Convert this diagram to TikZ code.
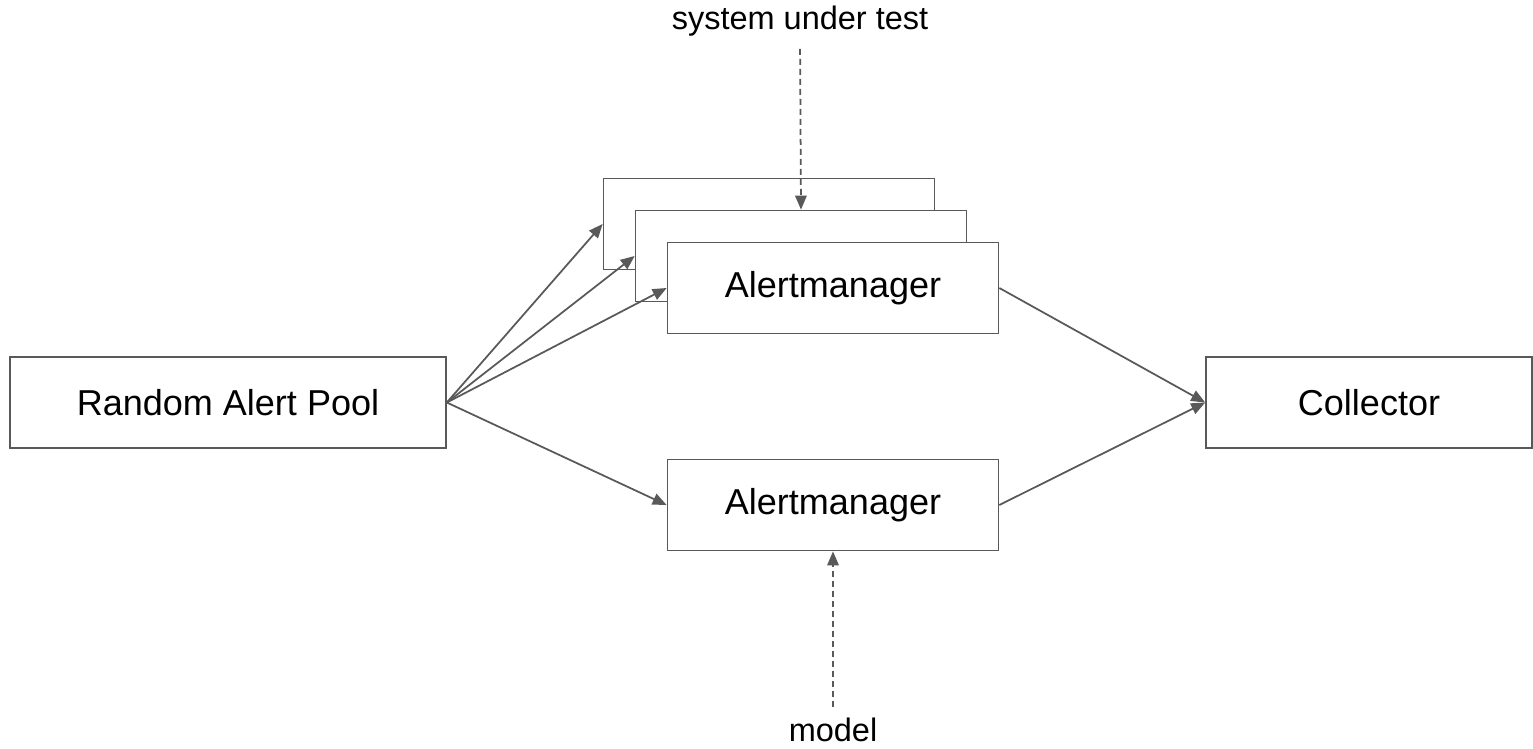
\documentclass[tikz,border=0pt]{standalone}
\usepackage{fontspec}
\setmainfont{Liberation Sans}
\usepackage{xcolor}
\definecolor{Line}{RGB}{89,89,89}
\definecolor{Black}{RGB}{0,0,0}
\definecolor{White}{RGB}{255,255,255}
\usetikzlibrary{arrows.meta}

\tikzset{
	box/.style={draw=Line, line width=1pt, fill=White, minimum width=6.62cm, minimum height=1.82cm, font=\fontsize{20.5}{24}\selectfont, text=Black},
	conn/.style={draw=Line, line width=1pt, -{Triangle[length=2.8mm, width=2.3mm]}},
	dashconn/.style={conn, dash pattern=on 1.2mm off 0.8mm},
	lbl/.style={font=\fontsize{18.5}{22}\selectfont, text=Black, inner sep=0pt}
}

\begin{document}
\begin{tikzpicture}[x=0.02cm, y=-0.02cm]
		
		\useasboundingbox (0,0) rectangle (1533,748);
		
		% Boxes
		\node[box, minimum width=8.72cm] (pool) at (228,402.5) {Random Alert Pool};
		\node[box, minimum width=6.52cm] (collector) at (1369,402.5) {Collector};
		\node[box] (back) at (769,224) {};
		\node[box] (mid) at (801,256) {};
		\node[box] (front) at (833,288) {Alertmanager};
		\node[box] (model) at (833,505) {Alertmanager};
		
		% Labels
		\node[lbl] (sut) at (800,21) {system under test};
		\node[lbl] (modellbl) at (833,730) {model};
		
		% Lines
		\draw[conn] (pool.east) -- (back.west);
		\draw[conn] (pool.east) -- (mid.west);
		\draw[conn] (pool.east) -- (front.west);
		\draw[conn] (pool.east) -- (model.west);
		\draw[conn] (front.east) -- (collector.west);
		\draw[conn] (model.east) -- (collector.west);
		
		% Dashed
		\draw[dashconn, shorten <=7pt] (sut.south) -- (mid.north);
		\draw[dashconn, shorten <=6pt] (modellbl.north) -- (model.south);
		
	\end{tikzpicture}
\end{document}
